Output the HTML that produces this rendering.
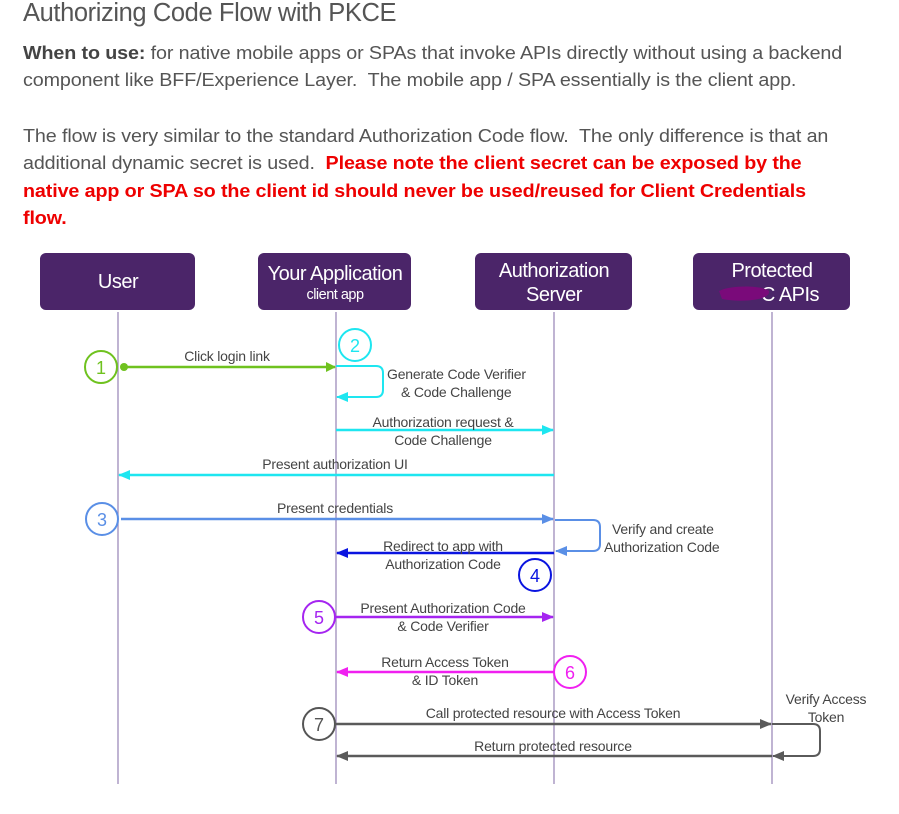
<!DOCTYPE html>
<html><head><meta charset="utf-8"><style>
body{margin:0;background:#fff;width:899px;height:814px;overflow:hidden;font-family:"Liberation Sans",sans-serif;}
.t{position:absolute;left:23px;top:-1px;font-size:25.5px;color:#555;font-weight:300;letter-spacing:-0.4px}
.p{position:absolute;left:23px;font-size:18.3px;color:#555;line-height:27.3px;white-space:nowrap;letter-spacing:-0.1px;transform:scaleX(1.077);transform-origin:0 0}
.r{color:#e00;font-weight:bold}
svg{position:absolute;left:0;top:0}
</style></head><body>
<div class="t">Authorizing Code Flow with PKCE</div>
<div class="p" style="top:39px"><b style="color:#444">When to use:</b> for native mobile apps or SPAs that invoke APIs directly without using a backend<br>component like BFF/Experience Layer.&nbsp; The mobile app / SPA essentially is the client app.</div>
<div class="p" style="top:122px">The flow is very similar to the standard Authorization Code flow.&nbsp; The only difference is that an<br>additional dynamic secret is used.&nbsp; <span class="r">Please note the client secret can be exposed by the<br>native app or SPA so the client id should never be used/reused for Client Credentials<br>flow.</span></div>
<svg width="899" height="814" font-family="Liberation Sans, sans-serif" font-size="14" fill="#444">
<defs>
<marker id="g" markerWidth="10" markerHeight="10" refX="9" refY="5" orient="auto" markerUnits="userSpaceOnUse"><path d="M0,0 L10,5 L0,10z" fill="#6fc21f"/></marker>
<marker id="c" markerWidth="12" markerHeight="10" refX="11" refY="5" orient="auto" markerUnits="userSpaceOnUse"><path d="M0,0 L12,5 L0,10z" fill="#1ee6f0"/></marker>
<marker id="b" markerWidth="12" markerHeight="10" refX="11" refY="5" orient="auto" markerUnits="userSpaceOnUse"><path d="M0,0 L12,5 L0,10z" fill="#5a8fe6"/></marker>
<marker id="d" markerWidth="12" markerHeight="10" refX="11" refY="5" orient="auto" markerUnits="userSpaceOnUse"><path d="M0,0 L12,5 L0,10z" fill="#0a14e0"/></marker>
<marker id="v" markerWidth="12" markerHeight="10" refX="11" refY="5" orient="auto" markerUnits="userSpaceOnUse"><path d="M0,0 L12,5 L0,10z" fill="#a525f0"/></marker>
<marker id="m" markerWidth="12" markerHeight="10" refX="11" refY="5" orient="auto" markerUnits="userSpaceOnUse"><path d="M0,0 L12,5 L0,10z" fill="#f020f0"/></marker>
<marker id="k" markerWidth="12" markerHeight="10" refX="11" refY="5" orient="auto" markerUnits="userSpaceOnUse"><path d="M0,0 L12,5 L0,10z" fill="#5a5a5a"/></marker>
</defs>
<g fill="#4b2569">
<rect x="40" y="253" width="155" height="57" rx="6"/>
<rect x="258" y="253" width="153" height="57" rx="6"/>
<rect x="475" y="253" width="157" height="57" rx="6"/>
<rect x="693" y="253" width="157" height="57" rx="6"/>
</g>
<g fill="#fff" font-size="20" text-anchor="middle" letter-spacing="-0.5">
<text x="118" y="288">User</text>
<text x="335" y="280">Your Application</text>
<text x="335" y="299" font-size="14.5">client app</text>
<text x="554" y="277">Authorization</text>
<text x="554" y="301">Server</text>
<text x="772" y="277">Protected</text>
<text x="790" y="301">C APIs</text>
</g>
<path d="M719,291 C730,285 762,285 769,291 C771,300 742,303 722,299z" fill="#7a0a7a"/>
<g stroke="#9d8bbb" stroke-width="1.3">
<line x1="118" y1="312" x2="118" y2="784"/><line x1="336" y1="312" x2="336" y2="784"/>
<line x1="554" y1="312" x2="554" y2="784"/><line x1="772" y1="312" x2="772" y2="784"/>
</g>
<g fill="none" stroke-width="2">
<line x1="124" y1="367" x2="335" y2="367" stroke="#6fc21f" stroke-width="2.5" marker-end="url(#g)"/>
<circle cx="124" cy="367" r="4" fill="#6fc21f" stroke="none"/>
<path d="M336,366 H376 Q383,366 383,373 V390 Q383,397 376,397 H337" stroke="#1ee6f0" marker-end="url(#c)"/>
<line x1="336" y1="430" x2="553" y2="430" stroke="#1ee6f0" stroke-width="2.5" marker-end="url(#c)"/>
<line x1="554" y1="475" x2="119" y2="475" stroke="#1ee6f0" stroke-width="2.5" marker-end="url(#c)"/>
<line x1="121" y1="519" x2="553" y2="519" stroke="#5a8fe6" stroke-width="2.5" marker-end="url(#b)"/>
<path d="M555,520 H593 Q600,520 600,527 V544 Q600,551 593,551 H556" stroke="#5a8fe6" marker-end="url(#b)"/>
<line x1="554" y1="553" x2="337" y2="553" stroke="#0a14e0" stroke-width="2.5" marker-end="url(#d)"/>
<line x1="336" y1="617" x2="553" y2="617" stroke="#a525f0" stroke-width="2.5" marker-end="url(#v)"/>
<line x1="554" y1="672" x2="337" y2="672" stroke="#f020f0" stroke-width="2.5" marker-end="url(#m)"/>
<line x1="336" y1="724" x2="771" y2="724" stroke="#5a5a5a" stroke-width="2.5" marker-end="url(#k)"/>
<path d="M772,724 H813 Q820,724 820,731 V749 Q820,756 813,756 H773" stroke="#5a5a5a" marker-end="url(#k)"/>
<line x1="772" y1="756" x2="337" y2="756" stroke="#5a5a5a" stroke-width="2.5" marker-end="url(#k)"/>
</g>
<g fill="#fff" stroke-width="2" font-size="18" text-anchor="middle">
<circle cx="101" cy="367" r="16" stroke="#6fc21f"/><text x="101" y="374" fill="#6fc21f" stroke="none">1</text>
<circle cx="355" cy="345" r="16" stroke="#1ee6f0"/><text x="355" y="352" fill="#1ee6f0" stroke="none">2</text>
<circle cx="102" cy="519" r="16" stroke="#5a8fe6"/><text x="102" y="526" fill="#5a8fe6" stroke="none">3</text>
<circle cx="535" cy="575" r="16" stroke="#0a14e0"/><text x="535" y="582" fill="#0a14e0" stroke="none">4</text>
<circle cx="319" cy="617" r="16" stroke="#a525f0"/><text x="319" y="624" fill="#a525f0" stroke="none">5</text>
<circle cx="570" cy="672" r="16" stroke="#f020f0"/><text x="570" y="679" fill="#f020f0" stroke="none">6</text>
<circle cx="319" cy="724" r="16" stroke="#555"/><text x="319" y="731" fill="#555" stroke="none">7</text>
</g>
<g text-anchor="middle" letter-spacing="-0.2">
<text x="227" y="361">Click login link</text>
<text x="443" y="427">Authorization request &amp;</text><text x="443" y="445">Code Challenge</text>
<text x="335" y="469">Present authorization UI</text>
<text x="335" y="513">Present credentials</text>
<text x="443" y="551">Redirect to app with</text><text x="443" y="569">Authorization Code</text>
<text x="443" y="613">Present Authorization Code</text><text x="443" y="631">&amp; Code Verifier</text>
<text x="445" y="667">Return Access Token</text><text x="445" y="685">&amp; ID Token</text>
<text x="553" y="718">Call protected resource with Access Token</text>
<text x="553" y="751">Return protected resource</text>
<text x="826" y="704">Verify Access</text><text x="826" y="722">Token</text>
</g>
<text x="387" y="379" letter-spacing="-0.2">Generate Code Verifier</text><text x="401" y="397" letter-spacing="-0.2">&amp; Code Challenge</text>
<text x="612" y="534" letter-spacing="-0.2">Verify and create</text><text x="604" y="552" letter-spacing="-0.2">Authorization Code</text>
</svg>
</body></html>
